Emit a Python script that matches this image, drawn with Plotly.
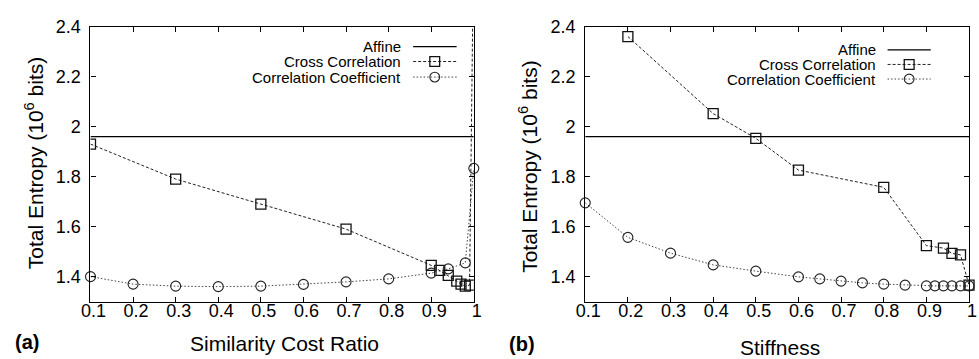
import plotly.graph_objects as go

W, H = 979, 359

# ---------------- data ----------------
affine_x = [0.1, 1.0]
affine_a = [1.96, 1.96]
affine_b = [1.96, 1.96]

# Panel (a): Similarity Cost Ratio
a_cross_x = [0.1, 0.3, 0.5, 0.7, 0.9, 0.92, 0.94, 0.96, 0.97, 0.98, 0.99, 1.0]
a_cross_y = [1.93, 1.79, 1.69, 1.59, 1.445, 1.425, 1.405, 1.382, 1.37, 1.362, 1.366, 2.8]
a_coef_x = [0.1, 0.2, 0.3, 0.4, 0.5, 0.6, 0.7, 0.8, 0.9, 0.94, 0.98, 1.0]
a_coef_y = [1.40, 1.37, 1.362, 1.36, 1.362, 1.369, 1.379, 1.391, 1.414, 1.431, 1.455, 1.833]

# Panel (b): Stiffness
b_cross_x = [0.2, 0.4, 0.5, 0.6, 0.8, 0.9, 0.94, 0.96, 0.98, 1.0]
b_cross_y = [2.36, 2.052, 1.953, 1.826, 1.757, 1.524, 1.514, 1.493, 1.487, 1.366]
b_coef_x = [0.1, 0.2, 0.3, 0.4, 0.5, 0.6, 0.65, 0.7, 0.75, 0.8, 0.85, 0.9, 0.92, 0.94, 0.96, 0.98, 1.0]
b_coef_y = [1.695, 1.557, 1.494, 1.447, 1.422, 1.399, 1.391, 1.382, 1.375, 1.37, 1.366,
            1.363, 1.363, 1.363, 1.363, 1.363, 1.363]

x_tickvals = [0.1, 0.2, 0.3, 0.4, 0.5, 0.6, 0.7, 0.8, 0.9, 1.0]
x_ticktext = ["0.1", "0.2", "0.3", "0.4", "0.5", "0.6", "0.7", "0.8", "0.9", "1"]
y_tickvals = [1.4, 1.6, 1.8, 2.0, 2.2, 2.4]
y_ticktext = ["1.4", "1.6", "1.8", "2", "2.2", "2.4"]

legend_labels = ["Affine", "Cross Correlation", "Correlation Coefficient"]
x_titles = ["Similarity Cost Ratio", "Stiffness"]
y_title = "Total Entropy (10<sup>6</sup> bits)"
panel_tags = ["(a)", "(b)"]

FONT = "Liberation Sans, Arial, Helvetica, sans-serif"

AFF = dict(color="#000000", width=1.3)
CROSS = dict(color="#222222", width=1, dash="3px,2px")
COEF = dict(color="#444444", width=1, dash="1.5px,2px")
SQ = dict(symbol="square-open", size=10, color="#111111", line=dict(width=1.3, color="#111111"))
CI = dict(symbol="circle-open", size=10, color="#222222", line=dict(width=1.1, color="#222222"))


def px(x):
    return x / W


def py(y):
    return 1 - y / H


fig = go.Figure()

# panel a
fig.add_trace(go.Scatter(x=affine_x, y=affine_a, mode="lines", line=AFF, xaxis="x", yaxis="y", showlegend=False))
fig.add_trace(go.Scatter(x=a_cross_x, y=a_cross_y, mode="lines+markers", line=CROSS, marker=SQ,
                         xaxis="x", yaxis="y", showlegend=False, cliponaxis=True))
fig.add_trace(go.Scatter(x=a_coef_x, y=a_coef_y, mode="lines+markers", line=COEF, marker=CI,
                         xaxis="x", yaxis="y", showlegend=False, cliponaxis=False))
# panel b
fig.add_trace(go.Scatter(x=affine_x, y=affine_b, mode="lines", line=AFF, xaxis="x2", yaxis="y2", showlegend=False))
fig.add_trace(go.Scatter(x=b_cross_x, y=b_cross_y, mode="lines+markers", line=CROSS, marker=SQ,
                         xaxis="x2", yaxis="y2", showlegend=False, cliponaxis=False))
fig.add_trace(go.Scatter(x=b_coef_x, y=b_coef_y, mode="lines+markers", line=COEF, marker=CI,
                         xaxis="x2", yaxis="y2", showlegend=False, cliponaxis=False))

# plot areas in pixels
panels = [dict(l=82, r=472.5, t=17, b=300), dict(l=586, r=977, t=17, b=300)]

axcommon = dict(
    showgrid=False, zeroline=False, showline=True, linecolor="#000", linewidth=1.2,
    mirror="allticks", ticks="inside", ticklen=5, tickwidth=1, tickcolor="#000",
    tickfont=dict(family=FONT, size=18, color="#000"),
)

layout = dict(
    width=W, height=H, margin=dict(l=0, r=0, t=0, b=0),
    plot_bgcolor="white", paper_bgcolor="white",
    font=dict(family=FONT, color="#000"),
    showlegend=False,
)
for i, p in enumerate(panels):
    sfx = "" if i == 0 else "2"
    layout["xaxis" + sfx] = dict(axcommon, domain=[px(p["l"]), px(p["r"])], range=[0.1, 1.0],
                                 tickvals=x_tickvals, ticktext=x_ticktext,
                                 anchor="y" + sfx, ticklabelstandoff=-7, ticklabelshift=3)
    layout["yaxis" + sfx] = dict(axcommon, domain=[py(p["b"]), py(p["t"])], range=[1.3, 2.4],
                                 tickvals=y_tickvals, ticktext=y_ticktext,
                                 anchor="x" + sfx, ticklabelstandoff=5)
fig.update_layout(**layout)

annotations = []
shapes = []

# axis titles and panel tags
ytitle_pos = [(24, 158), (527, 161)]
xtitle_pos = [(280, 343), (784, 347)]
tag_pos = [(17, 341), (522, 344)]
for i in range(2):
    annotations.append(dict(x=px(ytitle_pos[i][0]), y=py(ytitle_pos[i][1]), xref="paper", yref="paper",
                            text=y_title, textangle=-90, showarrow=False,
                            font=dict(family=FONT, size=21, color="#000"),
                            xanchor="center", yanchor="middle"))
    annotations.append(dict(x=px(xtitle_pos[i][0]), y=py(xtitle_pos[i][1]), xref="paper", yref="paper",
                            text=x_titles[i], showarrow=False,
                            font=dict(family=FONT, size=21, color="#000"),
                            xanchor="center", yanchor="middle"))
    annotations.append(dict(x=px(tag_pos[i][0]), y=py(tag_pos[i][1]), xref="paper", yref="paper",
                            text="<b>" + panel_tags[i] + "</b>", showarrow=False,
                            font=dict(family=FONT, size=20, color="#000"),
                            xanchor="center", yanchor="middle"))

# gnuplot-style legends (label then sample on the right)
legend_geo = [
    dict(text_r=400, rows=[37.7, 53, 69], s0=410.7, s1=455, m=432.7),
    dict(text_r=884, rows=[41, 56, 71], s0=894, s1=938, m=916),
]
styles = [AFF, CROSS, COEF]
for g in legend_geo:
    for k, lab in enumerate(legend_labels):
        yy = g["rows"][k]
        annotations.append(dict(x=px(g["text_r"]), y=py(yy), xref="paper", yref="paper", text=lab,
                                showarrow=False, font=dict(family=FONT, size=15, color="#000"),
                                xanchor="right", yanchor="middle"))
        st = styles[k]
        shapes.append(dict(type="line", xref="paper", yref="paper", x0=px(g["s0"]), x1=px(g["s1"]),
                           y0=py(yy), y1=py(yy),
                           line=dict(color=st["color"], width=st["width"], dash=st.get("dash", "solid"))))
        if k == 1:
            shapes.append(dict(type="rect", xref="paper", yref="paper",
                               x0=px(g["m"] - 5), x1=px(g["m"] + 5), y0=py(yy + 5), y1=py(yy - 5),
                               line=dict(color="#111", width=1.3)))
        elif k == 2:
            shapes.append(dict(type="circle", xref="paper", yref="paper",
                               x0=px(g["m"] - 5), x1=px(g["m"] + 5), y0=py(yy + 5), y1=py(yy - 5),
                               line=dict(color="#222", width=1.1)))

fig.update_layout(annotations=annotations, shapes=shapes)
fig.write_html("out.html")
